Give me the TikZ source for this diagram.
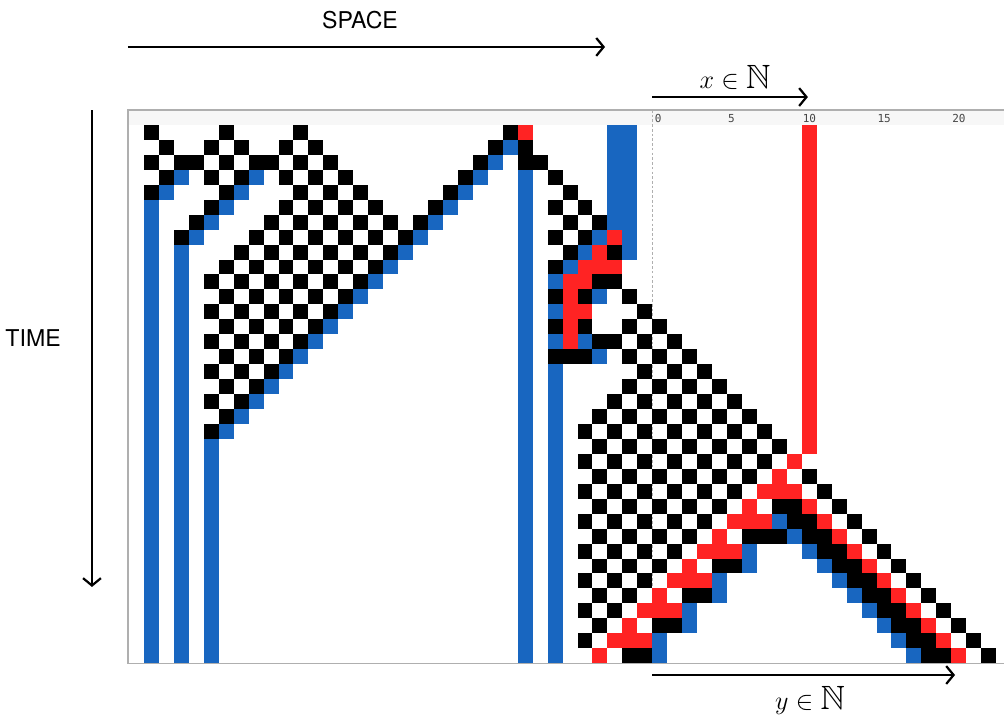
\documentclass[tikz,border=0pt]{standalone}
\usepackage{amssymb}
\usepackage{fontspec}
\setsansfont{TeX Gyre Heros}
\setmonofont{DejaVu Sans Mono}
\usetikzlibrary{arrows.meta}
\definecolor{cablue}{RGB}{24,102,192}
\definecolor{cared}{RGB}{255,35,35}
\definecolor{framegray}{RGB}{175,175,175}
\definecolor{headgray}{RGB}{247,247,247}
\definecolor{tickgray}{RGB}{70,70,70}
\def\cells[#1](#2)#3{\foreach \c in {#3}{\fill[#1] (\c,-#2) rectangle ++(1,-1);}}
\def\checks(#1)(#2:#3){\foreach \c in {#2,...,#3}{\ifodd\numexpr\c-#2\relax\else\fill[black] (\c,-#1) rectangle ++(1,-1);\fi}}

\begin{document}
\begin{tikzpicture}[x=0.5cm,y=0.5cm,
		axisarrow/.style={line width=2.1pt,-{Straight Barb[length=7pt,width=17pt]}},
		bigword/.style={font=\sffamily\fontsize{22}{26}\selectfont},
		mathword/.style={font=\fontsize{32}{38}\selectfont},
		ticklabel/.style={font=\ttfamily\fontsize{10.5}{12}\selectfont,text=tickgray,anchor=west,inner sep=0pt}]
			%%%%% START %%%%%
			\useasboundingbox (-9.632,8.361) rectangle (57.66,-39.73);
			
			% ruler band and zero line
			\fill[headgray] (-1.07,1) rectangle (57.5,0);
			\draw[framegray,dashed,dash pattern=on 2.5pt off 2pt,line width=0.8pt] (34,1) -- (34,-36);
			\node[ticklabel] (t0) at (34.15,0.45) {0};
			\node[ticklabel] (t5) at (39.05,0.45) {5};
			\node[ticklabel] (t10) at (44.05,0.45) {10};
			\node[ticklabel] (t15) at (49.05,0.45) {15};
			\node[ticklabel] (t20) at (54.05,0.45) {20};
			
			% blue bars
			\fill[cablue] (0,-5) rectangle (1,-36);
			\fill[cablue] (2,-8) rectangle (3,-36);
			\fill[cablue] (4,-21) rectangle (5,-36);
			\fill[cablue] (25,-3) rectangle (26,-36);
			\fill[cablue] (27,-16) rectangle (28,-36);
			\fill[cablue] (31,0) rectangle (33,-7);
			\fill[cablue] (32,-7) rectangle (33,-9);
			\foreach \r in {3,4} \fill[cablue] (5-\r,-\r) rectangle ++(1,-1);
			\foreach \r in {3,...,7} \fill[cablue] (10-\r,-\r) rectangle ++(1,-1);
			\foreach \r in {1,...,20} \fill[cablue] (25-\r,-\r) rectangle ++(1,-1);
			\cells[cablue](7){30}
			\cells[cablue](8){29}
			\cells[cablue](9){28}
			\cells[cablue](10){27}
			\cells[cablue](11){30}
			\cells[cablue](12){27}
			\cells[cablue](14){27,29}
			\cells[cablue](15){30}
			\cells[cablue](28){40}
			\cells[cablue](29){40}
			\cells[cablue](30){38}
			\cells[cablue](31){38}
			\cells[cablue](32){36}
			\cells[cablue](33){36}
			\cells[cablue](34){34}
			\cells[cablue](35){34}
			\foreach \r in {26,...,35} \fill[cablue] (\r+16,-\r) rectangle ++(1,-1);
			
			% red cells
			\fill[cared] (44,0) rectangle (45,-22);
			\cells[cared](0){25}
			\cells[cared](7){31}
			\cells[cared](8){30}
			\cells[cared](9){29,30,31}
			\cells[cared](10){28,29}
			\cells[cared](11){28}
			\cells[cared](12){28,29}
			\cells[cared](13){28}
			\cells[cared](14){28}
			\cells[cared](22){43}
			\cells[cared](23){42}
			\cells[cared](24){41,42,43}
			\cells[cared](25){40}
			\cells[cared](26){39,40,41}
			\cells[cared](27){38}
			\cells[cared](28){37,38,39}
			\cells[cared](29){36}
			\cells[cared](30){35,36,37}
			\cells[cared](31){34}
			\cells[cared](32){33,34,35}
			\cells[cared](33){32}
			\cells[cared](34){31,32,33}
			\cells[cared](35){30}
			\foreach \r in {25,...,35} \fill[cared] (\r+19,-\r) rectangle ++(1,-1);
			
			% black cells
			\cells[black](0){0,5,10,24}
			\cells[black](1){1,4,6,9,11,23,25}
			\cells[black](2){0,2,3,5,7,8,10,12,22,25,26}
			\cells[black](3){1,4,6,9,11,13,21,27}
			\cells[black](4){0,5,10,12,14,20,28}
			\checks(5)(9:15) \cells[black](5){4,19,27,29}
			\checks(6)(8:18) \cells[black](6){3,28,30}
			\checks(7)(7:17) \cells[black](7){2,27,29}
			\checks(8)(6:16) \cells[black](8){28,31}
			\checks(9)(5:15) \cells[black](9){27}
			\checks(10)(4:14) \cells[black](10){30,31}
			\checks(11)(5:13) \cells[black](11){27,29,32}
			\checks(12)(4:12) \cells[black](12){33}
			\checks(13)(5:11) \cells[black](13){27,29,32,34}
			\checks(14)(4:10) \cells[black](14){30,31,33,35}
			\checks(15)(5:9) \checks(15)(32:36) \cells[black](15){27,28,29}
			\checks(16)(4:8) \checks(16)(33:37)
			\cells[black](17){5,7} \checks(17)(32:38)
			\cells[black](18){4,6} \checks(18)(31:39)
			\cells[black](19){5} \checks(19)(30:40)
			\cells[black](20){4} \checks(20)(29:41)
			\checks(21)(30:42)
			\checks(22)(29:41)
			\checks(23)(30:40)
			\checks(24)(29:39)
			\checks(25)(30:38)
			\checks(26)(29:37)
			\checks(27)(30:36) \cells[black](27){40,41,42}
			\checks(28)(29:35)
			\checks(29)(30:34) \cells[black](29){38,39}
			\checks(30)(29:33)
			\checks(31)(30:32) \cells[black](31){36,37}
			\cells[black](32){29,31}
			\cells[black](33){30,34,35}
			\cells[black](34){29}
			\cells[black](35){32,33}
			\foreach \r in {23,...,35} \fill[black] (\r+21,-\r) rectangle ++(1,-1);
			\foreach \r in {25,...,35} \fill[black] (\r+17,-\r) rectangle ++(2,-1);
			
			% frame
			\draw[framegray,line width=1.2pt] (57.5,1) -- (-1.07,1) -- (-1.07,-36) -- (57.5,-36);
			
			% axes
			\coordinate (spaceL) at (-1.07,5.22);
			\coordinate (spaceR) at (30.84,5.22);
			\draw[axisarrow] (spaceL) -- (spaceR);
			\node[bigword] (space) at (14.45,7.02) {SPACE};
			
			\coordinate (timeT) at (-3.48,1.0);
			\coordinate (timeB) at (-3.48,-30.9);
			\draw[axisarrow] (timeT) -- (timeB);
			\node[bigword] (time) at (-7.42,-14.25) {TIME};
			
			\coordinate (xL) at (34,1.87);
			\coordinate (xR) at (44.41,1.87);
			\draw[axisarrow] (xL) -- (xR);
			\node[mathword] (xlab) at (39.53,3.15) {$x \in \mathbb{N}$};
			
			\coordinate (yL) at (34,-36.79);
			\coordinate (yR) at (54.25,-36.79);
			\draw[axisarrow] (yL) -- (yR);
			\node[mathword] (ylab) at (44.55,-38.5) {$y \in \mathbb{N}$};
			
			%%%%% END %%%%%
\end{tikzpicture}
\end{document}
